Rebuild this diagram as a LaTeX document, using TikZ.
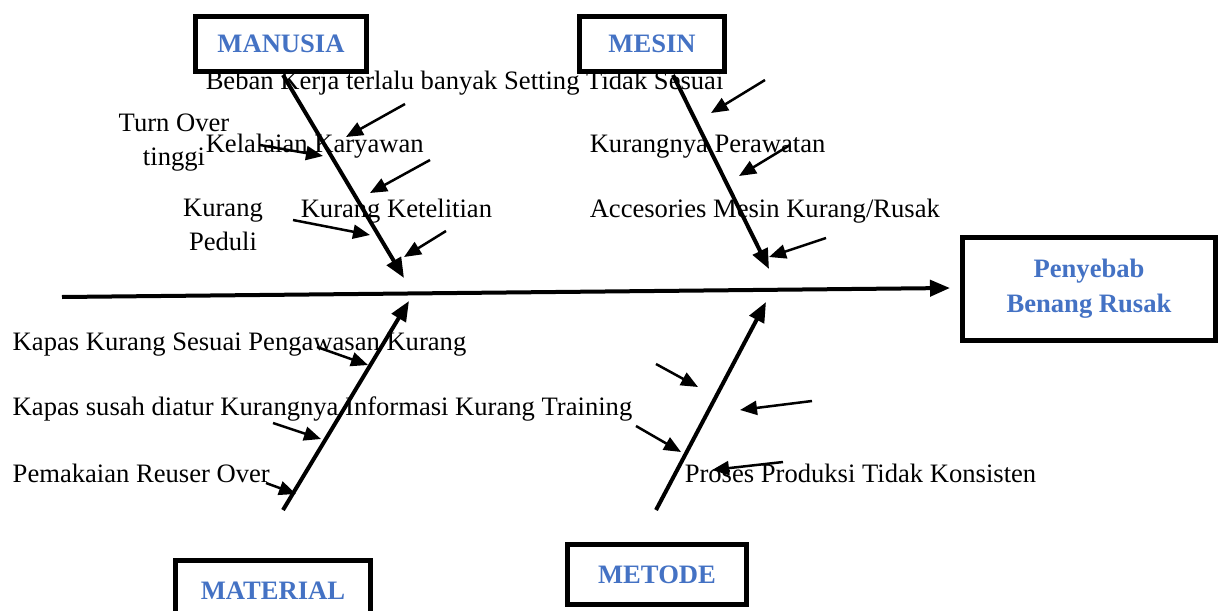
\documentclass[tikz,border=0pt]{standalone}
\usepackage{fontspec}
\setmainfont{Liberation Serif}
\usetikzlibrary{arrows.meta}
\definecolor{headblue}{RGB}{68,114,196}

\tikzset{every picture/.style={line width=0.75pt}}
\tikzset{
  catbox/.style={draw, line width=2.5pt, fill=white, inner sep=0pt, align=center,
    font=\fontsize{13.3}{17.5}\selectfont\bfseries, text=headblue},
  cause/.style={anchor=west, inner sep=0pt, font=\fontsize{13.3}{17}\selectfont},
  bone/.style={line width=2pt, -{Triangle[length=10pt,width=8pt]}},
  twig/.style={line width=1.25pt, -{Triangle[length=8.5pt,width=7pt]}},
}

\begin{document}
\begin{tikzpicture}[x=0.5pt,y=0.5pt,yscale=-1,xscale=1]
\useasboundingbox (0,0) rectangle (1218,610);

% Text Node
\node [cause] (tBeban) at (205,83) {Beban Kerja terlalu banyak Setting Tidak Sesuai};
% Text Node
\node [cause, anchor=center, align=center] (tTurn) at (174,143) {Turn Over\\tinggi};
% Text Node
\node [cause] (tLalai) at (205,146) {Kelalaian Karyawan};
% Text Node
\node [cause, anchor=center, align=center] (tPeduli) at (223,225) {Kurang\\Peduli};
% Text Node
\node [cause] (tTeliti) at (300,211) {Kurang Ketelitian};
% Text Node
\node [cause] (tRawat) at (589,147) {Kurangnya Perawatan};
% Text Node
\node [cause] (tAcc) at (589,211) {Accesories Mesin Kurang/Rusak};
% Text Node
\node [cause] (tKapas) at (12,345) {Kapas Kurang Sesuai Pengawasan Kurang};
% Text Node
\node [cause] (tSusah) at (12,409) {Kapas susah diatur Kurangnya Informasi Kurang Training};
% Text Node
\node [cause] (tReuser) at (12,473) {Pemakaian Reuser Over};
% Text Node
\node [cause] (tProses) at (684,473) {Proses Produksi Tidak Konsisten};

%Shape: Rectangle
\node [catbox, minimum width=85.5pt, minimum height=27.5pt] (manusia) at (281,44) {MANUSIA};
%Shape: Rectangle
\node [catbox, minimum width=72.5pt, minimum height=27.5pt] (mesin) at (652,44) {MESIN};
%Shape: Rectangle
\node [catbox, minimum width=97.5pt, minimum height=30pt] (material) at (273,590.5) {MATERIAL};
%Shape: Rectangle
\node [catbox, minimum width=89.5pt, minimum height=30pt] (metode) at (657,574.5) {METODE};
%Shape: Rectangle
\node [catbox, minimum width=126.5pt, minimum height=51.5pt] (effect) at (1089,289) {Penyebab\\Benang Rusak};

% bone ends
\coordinate (spineTail) at (62,297);
\coordinate (spineHead) at (950,288);
\coordinate (manFoot) at (283,75);
\coordinate (manTip) at (404,278);
\coordinate (mesFoot) at (673,75);
\coordinate (mesTip) at (769,269);
\coordinate (matFoot) at (283,510);
\coordinate (matTip) at (409,301);
\coordinate (metFoot) at (656,510);
\coordinate (metTip) at (766,302);

%Straight Lines
\draw [bone] (spineTail) -- (spineHead);
\draw [bone] (manFoot) -- (manTip);
\draw [bone] (mesFoot) -- (mesTip);
\draw [bone] (matFoot) -- (matTip);
\draw [bone] (metFoot) -- (metTip);

% twig ends
\coordinate (a1) at (405,104); \coordinate (b1) at (346,137);
\coordinate (a2) at (260,145); \coordinate (b2) at (323,156);
\coordinate (a3) at (430,160); \coordinate (b3) at (370,193);
\coordinate (a4) at (293,220); \coordinate (b4) at (370,235);
\coordinate (a5) at (446,231); \coordinate (b5) at (404,257);
\coordinate (a6) at (765,80);  \coordinate (b6) at (711,113);
\coordinate (a7) at (790,145); \coordinate (b7) at (739,176);
\coordinate (a8) at (826,238); \coordinate (b8) at (769,257);
\coordinate (a9) at (317,347); \coordinate (b9) at (368,365);
\coordinate (a10) at (273,423); \coordinate (b10) at (321,439);
\coordinate (a11) at (266,483); \coordinate (b11) at (296,494);
\coordinate (a12) at (656,364); \coordinate (b12) at (698,387);
\coordinate (a13) at (812,401); \coordinate (b13) at (740,410);
\coordinate (a14) at (636,426); \coordinate (b14) at (681,452);
\coordinate (a15) at (783,462); \coordinate (b15) at (712,470);

%Straight Lines
\draw [twig] (a1) -- (b1);
\draw [twig] (a2) -- (b2);
\draw [twig] (a3) -- (b3);
\draw [twig] (a4) -- (b4);
\draw [twig] (a5) -- (b5);
\draw [twig] (a6) -- (b6);
\draw [twig] (a7) -- (b7);
\draw [twig] (a8) -- (b8);
\draw [twig] (a9) -- (b9);
\draw [twig] (a10) -- (b10);
\draw [twig] (a11) -- (b11);
\draw [twig] (a12) -- (b12);
\draw [twig] (a13) -- (b13);
\draw [twig] (a14) -- (b14);
\draw [twig] (a15) -- (b15);

\end{tikzpicture}
\end{document}
